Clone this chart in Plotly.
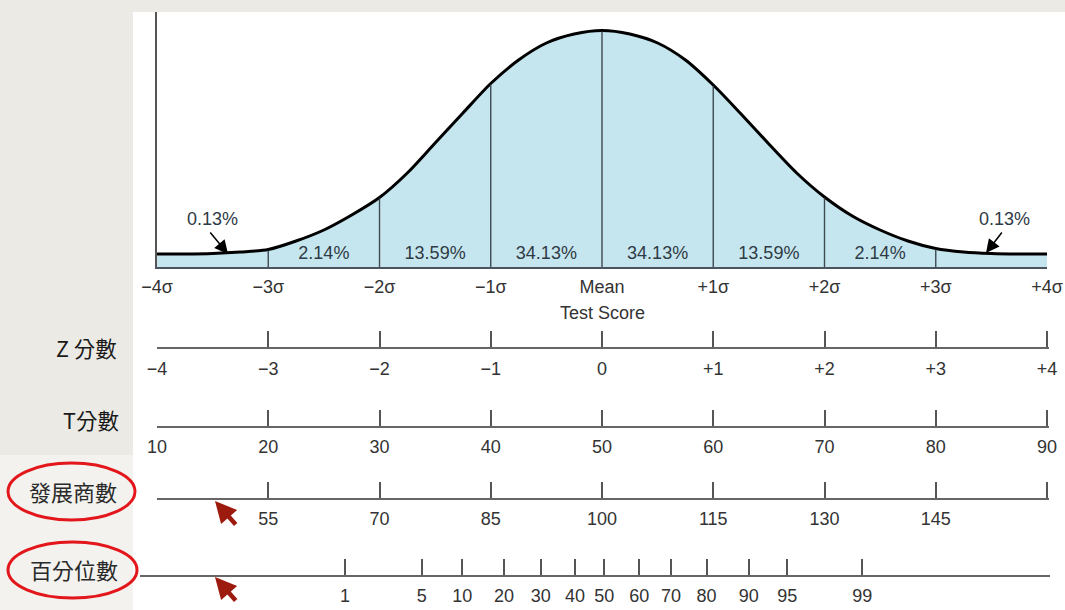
import plotly.graph_objects as go

# ---------------- data ----------------
CURVE_Z = [-4, -3.75, -3.5, -3.25, -3, -2.75, -2.5, -2.25, -2, -1.75, -1.5, -1.25, -1,
           -0.75, -0.5, -0.25, 0, 0.25, 0.5, 0.75, 1, 1.25, 1.5, 1.75, 2, 2.25, 2.5,
           2.75, 3, 3.25, 3.5, 3.75, 4]
CURVE_H = [13, 13, 13.5, 15, 17.5, 26, 37, 52, 69.5, 94, 124, 154, 183.5,
           207, 224, 233, 236.5, 233, 224, 207, 182, 153, 123, 94, 70, 51, 37,
           26, 18.5, 15, 13.5, 13, 13]

SIGMA_Z = [-4, -3, -2, -1, 0, 1, 2, 3, 4]
SIGMA_LABELS = ["\u22124\u03c3", "\u22123\u03c3", "\u22122\u03c3", "\u22121\u03c3", "Mean",
                "+1\u03c3", "+2\u03c3", "+3\u03c3", "+4\u03c3"]
DIVIDER_Z = [-3, -2, -1, 0, 1, 2, 3]

BAND_MID_Z = [-2.5, -1.5, -0.5, 0.5, 1.5, 2.5]
BAND_PCT = ["2.14%", "13.59%", "34.13%", "34.13%", "13.59%", "2.14%"]
TAIL_PCT = "0.13%"

Z_VALS = [-4, -3, -2, -1, 0, 1, 2, 3, 4]
Z_TEXT = ["\u22124", "\u22123", "\u22122", "\u22121", "0", "+1", "+2", "+3", "+4"]
T_VALS = [10, 20, 30, 40, 50, 60, 70, 80, 90]
DQ_VALS = [40, 55, 70, 85, 100, 115, 130, 145, 160]
DQ_TEXT = ["", "55", "70", "85", "100", "115", "130", "145", ""]
PCT_POS_Z = [-2.31, -1.62, -1.256, -0.88, -0.55, -0.243, 0.02, 0.335, 0.62, 0.94, 1.32, 1.666, 2.34]
PCT_TEXT = ["1", "5", "10", "20", "30", "40", "50", "60", "70", "80", "90", "95", "99"]

ROW_LABELS = ["Z 分數", "T分數", "發展商數", "百分位數"]

# ---------------- layout constants ----------------
W, H = 1065, 610
PX_LEFT, PX_RIGHT = 157, 1047        # -4 sigma .. +4 sigma on the curve axis
PX_PER_Z = (PX_RIGHT - PX_LEFT) / 8.0
PX_MEAN = PX_LEFT + 4 * PX_PER_Z


def fx(px):
    return px / W


def fy(py):
    return 1 - py / H


def z_at(px):
    return (px - PX_MEAN) / PX_PER_Z


FONT = "Liberation Sans, Arial, sans-serif"
CJK = "Noto Sans CJK TC, Noto Sans, sans-serif"
TXT = "#333333"

fig = go.Figure()

# filled curve
fig.add_trace(go.Scatter(x=CURVE_Z, y=CURVE_H, mode="lines", line=dict(color="black", width=3, shape="spline", smoothing=0.8),
                         fill="tozeroy", fillcolor="#c6e6ef", hoverinfo="skip", showlegend=False))

# divider lines
h_at = dict(zip(CURVE_Z, CURVE_H))
dx, dy = [], []
for z in DIVIDER_Z:
    dx += [z, z, None]
    dy += [0, h_at[z] - 1, None]
fig.add_trace(go.Scatter(x=dx, y=dy, mode="lines", line=dict(color="#3e4a52", width=1.4),
                         hoverinfo="skip", showlegend=False))

# band percentages
fig.add_trace(go.Scatter(x=BAND_MID_Z, y=[13] * len(BAND_MID_Z), mode="text", text=BAND_PCT,
                         textfont=dict(family=FONT, size=18, color="#2e3a44"), hoverinfo="skip", showlegend=False))

# scale axes (dummy traces so the subplots exist)
for ax in ["x2", "x3", "x4", "x5"]:
    fig.add_trace(go.Scatter(x=[None], y=[None], xaxis=ax, yaxis="y", hoverinfo="skip", showlegend=False))

SCALE_L, SCALE_R = 157, 1049
ZR = [z_at(SCALE_L), z_at(SCALE_R)]

common = dict(showgrid=False, zeroline=False, showline=True, linecolor="#666666", linewidth=2,
              ticks="inside", ticklen=16, tickwidth=1.5, tickcolor="#555555",
              tickfont=dict(family=FONT, size=18, color=TXT), anchor="free", side="bottom",
              domain=[fx(SCALE_L), fx(SCALE_R)], fixedrange=True, ticklabelstandoff=4,
              automargin=False)

fig.update_layout(
    width=W, height=H, autosize=False,
    margin=dict(l=0, r=0, t=0, b=0, pad=0),
    paper_bgcolor="#ebeae5",
    plot_bgcolor="rgba(0,0,0,0)",
    xaxis=dict(domain=[fx(PX_LEFT), fx(PX_RIGHT)], range=[-4, 4], showgrid=False, zeroline=False,
               showline=True, linecolor="#4a5560", linewidth=2, ticks="", tickmode="array",
               tickvals=SIGMA_Z, ticktext=SIGMA_LABELS, ticklabelstandoff=2, automargin=False,
               tickfont=dict(family=FONT, size=18, color=TXT), fixedrange=True),
    yaxis=dict(domain=[fy(267), fy(12)], range=[0, 255], showgrid=False, zeroline=False,
               showline=True, linecolor="#555555", linewidth=1.5, ticks="", showticklabels=False,
               fixedrange=True, automargin=False),
    xaxis2=dict(common, range=ZR, tickmode="array", tickvals=Z_VALS, ticktext=Z_TEXT, position=fy(348)),
    xaxis3=dict(common, range=[50 + 10 * ZR[0], 50 + 10 * ZR[1]], tickmode="array", tickvals=T_VALS,
                ticktext=[str(v) for v in T_VALS], position=fy(426.5)),
    xaxis4=dict(common, range=[100 + 15 * ZR[0], 100 + 15 * ZR[1]], tickmode="array", tickvals=DQ_VALS,
                ticktext=DQ_TEXT, position=fy(498.5)),
    xaxis5=dict(common, range=[z_at(140), z_at(1050)], domain=[fx(140), fx(1050)], tickmode="array",
                tickvals=PCT_POS_Z, ticktext=PCT_TEXT, position=fy(575.5)),
    showlegend=False,
)

shapes = [
    dict(type="rect", xref="paper", yref="paper", x0=fx(133), x1=1, y0=0, y1=fy(12),
         fillcolor="white", line=dict(width=0), layer="below"),
    dict(type="rect", xref="paper", yref="paper", x0=0, x1=fx(133), y0=0, y1=fy(455),
         fillcolor="#f3f2ee", line=dict(width=0), layer="below"),
    dict(type="circle", xref="paper", yref="paper", x0=fx(8), x1=fx(135), y0=fy(520), y1=fy(463),
         line=dict(color="#e3161b", width=3)),
    dict(type="circle", xref="paper", yref="paper", x0=fx(8), x1=fx(137), y0=fy(598), y1=fy(542),
         line=dict(color="#e3161b", width=3)),
]
fig.update_layout(shapes=shapes)

ann = []
# Test Score
ann.append(dict(x=0, xref="x", y=fy(313), yref="paper", text="Test Score", showarrow=False,
                xanchor="center", yanchor="middle", font=dict(family=FONT, size=18, color=TXT)))
# tail labels + arrows
ann.append(dict(x=z_at(212), xref="x", y=fy(219), yref="paper", text=TAIL_PCT, showarrow=False,
                xanchor="center", yanchor="middle", font=dict(family=FONT, size=18, color="#2e3a44")))
ann.append(dict(x=z_at(1004), xref="x", y=fy(219), yref="paper", text=TAIL_PCT, showarrow=False,
                xanchor="center", yanchor="middle", font=dict(family=FONT, size=18, color="#2e3a44")))
ann.append(dict(x=z_at(228), xref="x", y=13, yref="y", text="", showarrow=True, ax=-19, ay=-23,
                arrowhead=2, arrowsize=1.8, arrowwidth=1.5, arrowcolor="black"))
ann.append(dict(x=z_at(986), xref="x", y=14, yref="y", text="", showarrow=True, ax=17, ay=-22,
                arrowhead=2, arrowsize=1.8, arrowwidth=1.5, arrowcolor="black"))
# row labels
ann.append(dict(x=fx(119), xref="paper", y=fy(347), yref="paper", text=ROW_LABELS[0], showarrow=False,
                xanchor="right", yanchor="middle", font=dict(family=CJK, size=21.5, color="#1a1a1a")))
ann.append(dict(x=fx(121), xref="paper", y=fy(419), yref="paper", text=ROW_LABELS[1], showarrow=False,
                xanchor="right", yanchor="middle", font=dict(family=CJK, size=21.5, color="#1a1a1a")))
ann.append(dict(x=fx(73), xref="paper", y=fy(491), yref="paper", text=ROW_LABELS[2], showarrow=False,
                xanchor="center", yanchor="middle", font=dict(family=CJK, size=22, color="#2a2a2a")))
ann.append(dict(x=fx(74), xref="paper", y=fy(569), yref="paper", text=ROW_LABELS[3], showarrow=False,
                xanchor="center", yanchor="middle", font=dict(family=CJK, size=22, color="#2a2a2a")))
# red arrows
for tip_y in (501, 577):
    ann.append(dict(x=fx(215), xref="paper", y=fy(tip_y), yref="paper", text="", showarrow=True,
                    ax=22, ay=25, arrowhead=2, arrowsize=0.95, arrowwidth=4.5, arrowcolor="#9c1a0e"))
fig.update_layout(annotations=ann)

fig.write_html("out.html", config={"responsive": False, "displayModeBar": False},
               default_width="1065px", default_height="610px",
               post_script="document.body.style.margin='0px';document.body.style.overflow='hidden';")
